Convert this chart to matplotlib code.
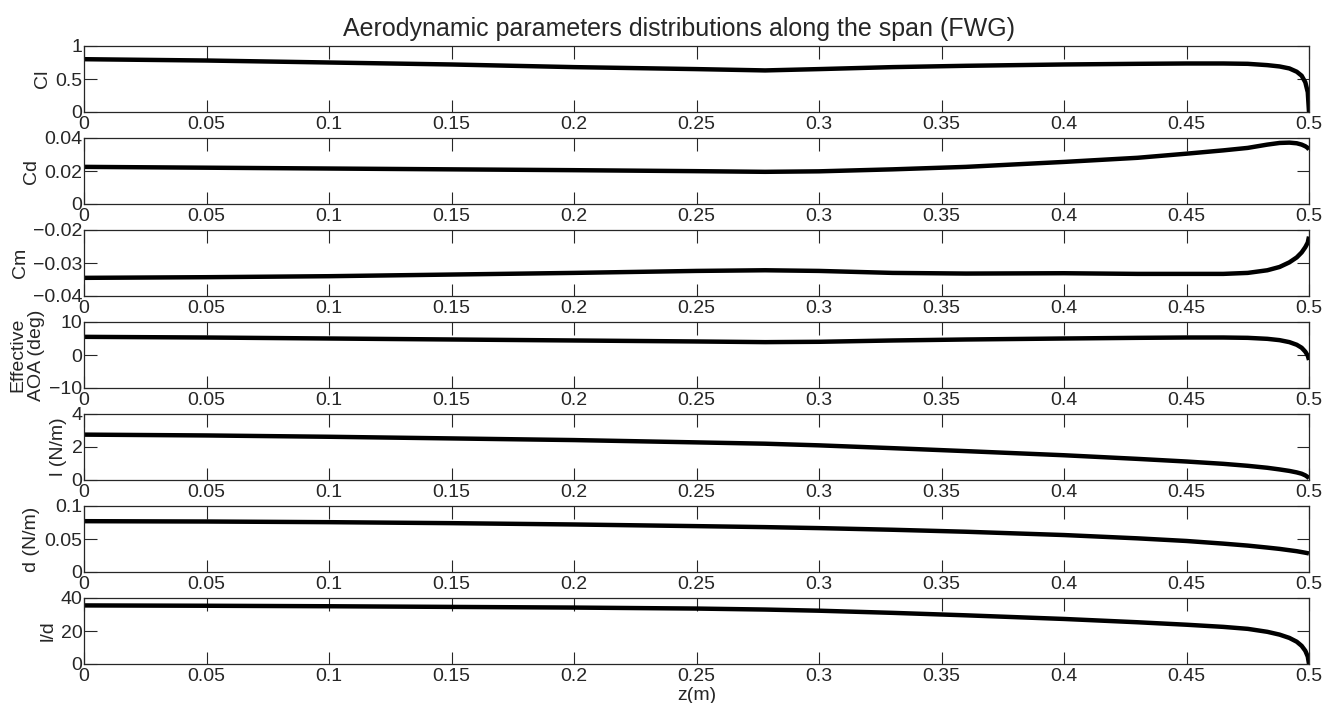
import numpy as np
import matplotlib.pyplot as plt
from matplotlib.ticker import FixedLocator, FuncFormatter

# spanwise stations (m)
z = [0, 0.05, 0.1, 0.15, 0.2, 0.25, 0.278, 0.3, 0.33, 0.36, 0.4, 0.43, 0.45,
     0.465, 0.475, 0.483, 0.488, 0.492, 0.495, 0.497, 0.4985, 0.4995, 0.5]

cl = [0.80, 0.78, 0.75, 0.72, 0.68, 0.65, 0.63, 0.65, 0.68, 0.70, 0.72, 0.73, 0.735,
      0.735, 0.73, 0.71, 0.69, 0.66, 0.61, 0.55, 0.45, 0.30, 0.0]
cd = [0.0225, 0.0220, 0.0215, 0.0210, 0.0205, 0.0199, 0.0195, 0.0198, 0.0210, 0.0225,
      0.0255, 0.0280, 0.0305, 0.0325, 0.0340, 0.0360, 0.0370, 0.0372, 0.0368, 0.0360,
      0.0350, 0.0340, 0.0330]
cm = [-0.0345, -0.0343, -0.0340, -0.0335, -0.0330, -0.0324, -0.0322, -0.0324, -0.0330,
      -0.0332, -0.0331, -0.0333, -0.0333, -0.0333, -0.0330, -0.0322, -0.0312, -0.0298,
      -0.0283, -0.0268, -0.0252, -0.0238, -0.0220]
aoa = [5.5, 5.3, 5.0, 4.7, 4.4, 4.1, 3.9, 4.0, 4.4, 4.7, 5.0, 5.2, 5.3,
       5.3, 5.2, 4.9, 4.5, 3.9, 3.1, 2.2, 1.0, -0.2, -1.5]
lift = [2.75, 2.70, 2.62, 2.52, 2.42, 2.28, 2.20, 2.10, 1.93, 1.75, 1.50, 1.28, 1.12,
        0.98, 0.86, 0.74, 0.64, 0.55, 0.46, 0.38, 0.28, 0.18, 0.10]
drag = [0.077, 0.0765, 0.0755, 0.0740, 0.0720, 0.0695, 0.0680, 0.0665, 0.0640, 0.0610,
        0.0560, 0.0510, 0.0470, 0.0430, 0.0400, 0.0370, 0.0350, 0.0330, 0.0315, 0.0302,
        0.0292, 0.0285, 0.0280]
ld = [35.5, 35.3, 35.0, 34.6, 34.2, 33.6, 33.0, 32.3, 31.0, 29.5, 27.3, 25.3, 23.8,
      22.5, 21.3, 19.5, 17.8, 15.8, 13.5, 11.0, 8.0, 4.5, 0.0]

series = [cl, cd, cm, aoa, lift, drag, ld]
ylabels = ['Cl', 'Cd', 'Cm', 'Effective\nAOA (deg)', 'l (N/m)', 'd (N/m)', 'l/d']
ylims = [(0, 1), (0, 0.04), (-0.04, -0.02), (-10, 10), (0, 4), (0, 0.1), (0, 40)]
xticks = [0, 0.05, 0.1, 0.15, 0.2, 0.25, 0.3, 0.35, 0.4, 0.45, 0.5]

plt.rcParams['font.family'] = ['Liberation Sans', 'DejaVu Sans']
plt.rcParams['axes.unicode_minus'] = True

W, H = 1337, 703
fig = plt.figure(figsize=(W / 100, H / 100), dpi=100)

left, right = 84, 1309
tops = [46, 138, 230, 322, 414, 506, 598]
hgt = 66
ink = '#262626'


def fmt(v, pos):
    s = '%g' % round(v, 6)
    return s.replace('-', '\u2212')


for i in range(7):
    ax = fig.add_axes([left / W, 1 - (tops[i] + hgt) / H, (right - left) / W, hgt / H])
    ax.plot(z, series[i], color='black', lw=3.2, solid_capstyle='butt')
    ax.set_xlim(0, 0.5)
    lo, hi = ylims[i]
    ax.set_ylim(lo, hi)
    ax.xaxis.set_major_locator(FixedLocator(xticks))
    ax.xaxis.set_major_formatter(FuncFormatter(fmt))
    ax.yaxis.set_major_locator(FixedLocator([lo, (lo + hi) / 2, hi]))
    ax.yaxis.set_major_formatter(FuncFormatter(fmt))
    ax.tick_params(direction='in', length=9, width=0.8, top=True, right=True,
                   labelsize=14, pad=1, colors=ink)
    ax.tick_params(axis='x', pad=3)
    for sp in ax.spines.values():
        sp.set_linewidth(0.9)
        sp.set_color(ink)
    ax.set_ylabel(ylabels[i], fontsize=14, labelpad=3, linespacing=1.15, color=ink)
    if i == 6:
        ax.set_xlabel('z(m)', fontsize=14, labelpad=1, color=ink)

fig.text(679 / W, 1 - 29 / H, 'Aerodynamic parameters distributions along the span (FWG)',
         fontsize=18, ha='center', va='center', color=ink)

fig.savefig('out.png', dpi=100)
